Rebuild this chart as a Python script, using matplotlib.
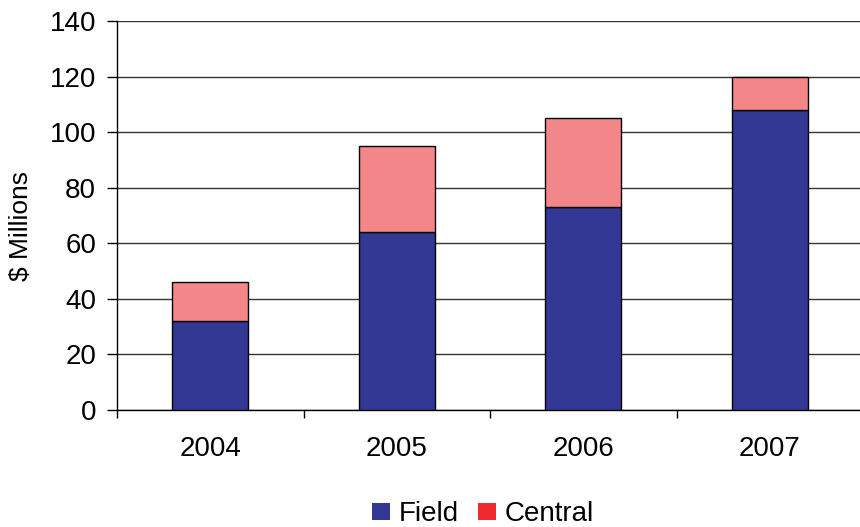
import matplotlib
matplotlib.use("Agg")
import matplotlib.pyplot as plt
from matplotlib.patches import Patch
import numpy as np

years = ["2004", "2005", "2006", "2007"]
field = [32, 64, 73, 108]
central = [14, 31, 32, 12]
y_ticks = [0, 20, 40, 60, 80, 100, 120, 140]

field_color = "#333894"
central_color = "#f28689"
central_legend_color = "#ee2a2e"

plt.rcParams["font.family"] = ["Liberation Sans", "DejaVu Sans"]

fig = plt.figure(figsize=(8.6, 5.27), dpi=100)
ax = fig.add_axes([117 / 860, 1 - 410 / 527, (863 - 117) / 860, (410 - 21) / 527])

x = np.arange(len(years))
ax.bar(x, field, width=0.41, color=field_color, edgecolor="black", linewidth=1, zorder=3)
ax.bar(x, central, width=0.41, bottom=field, color=central_color, edgecolor="black",
       linewidth=1, zorder=3)

ax.set_xlim(-0.5, len(years) - 0.5)
ax.set_ylim(0, 140)
ax.set_yticks(y_ticks)
ax.yaxis.grid(True, color="#333333", linewidth=1, zorder=0)
ax.set_axisbelow(True)

ax.set_xticks(x)
ax.set_xticklabels(years)
ax.set_xticks(np.arange(-0.5, len(years), 1.0), minor=True)
ax.tick_params(axis="x", which="major", length=0, pad=19, labelsize=20)
ax.tick_params(axis="x", which="minor", length=6, width=1, direction="out")
ax.tick_params(axis="y", length=7, width=1, direction="out", pad=8, labelsize=20)

for side in ("top", "right"):
    ax.spines[side].set_visible(False)
for side in ("left", "bottom"):
    ax.spines[side].set_linewidth(1)
    ax.spines[side].set_color("black")

fig.text(21 / 860, 1 - 226 / 527, "$ Millions", rotation=90, fontsize=19,
         ha="center", va="center")

handles = [Patch(facecolor=field_color, label="Field"),
           Patch(facecolor=central_legend_color, label="Central")]
fig.legend(handles=handles, loc="center", bbox_to_anchor=(483 / 860, 1 - 514 / 527),
           ncol=2, frameon=False, fontsize=20, handlelength=0.65, handleheight=0.55,
           handletextpad=0.3, columnspacing=0.7)

fig.savefig("out.png", dpi=100)
